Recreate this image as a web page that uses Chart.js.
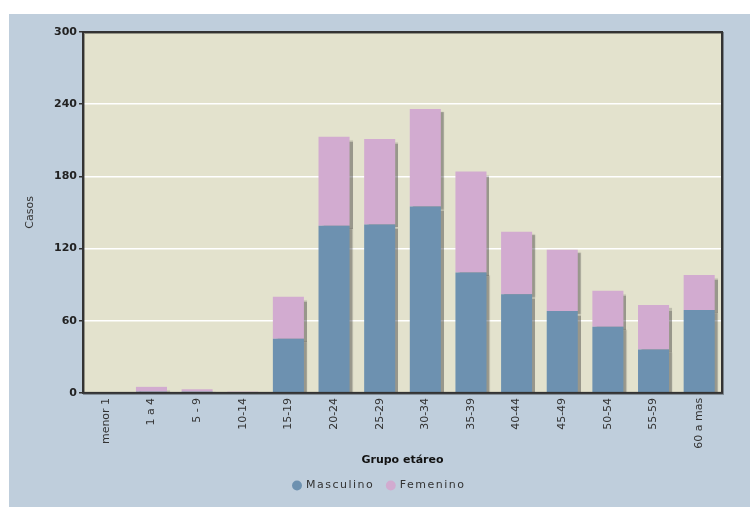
<!DOCTYPE html>
<html>
<head>
<meta charset="utf-8">
<script src="https://cdn.jsdelivr.net/npm/chart.js@4/dist/chart.umd.min.js"></script>
<style>
  html, body { margin: 0; padding: 0; background: #ffffff; }
  #wrap { position: absolute; left: 9px; top: 14px; width: 741px; height: 493px; background: #bfcedc; }
</style>
</head>
<body>
<div id="wrap"><canvas id="casos_grupo"></canvas></div>
<script>
// casos por grupo etáreo y sexo
var categorias = ["menor 1", "1 a 4", "5 - 9", "10-14", "15-19", "20-24", "25-29", "30-34", "35-39", "40-44", "45-49", "50-54", "55-59", "60 a mas"];
var masculino = [0, 1, 1, 0, 45, 139, 140, 155, 100, 82, 68, 55, 36, 69];
var femenino = [0, 4, 2, 1, 35, 74, 71, 81, 84, 52, 51, 30, 37, 29];
var ticksY = [0, 60, 120, 180, 240, 300];

var FONT = "'DejaVu Sans', Verdana, sans-serif";

// fondo del area de grafico, sombra de barras y marco
var marco = {
  id: 'marco',
  beforeDraw: function(chart) {
    var a = chart.chartArea, ctx = chart.ctx;
    ctx.save();
    ctx.fillStyle = '#e3e2cd';
    ctx.fillRect(a.left, a.top, a.right - a.left, a.bottom - a.top);
    ctx.restore();
  },
  beforeDatasetsDraw: function(chart) {
    var ctx = chart.ctx;
    ctx.save();
    ctx.shadowColor = 'rgba(60,60,60,0.45)';
    ctx.shadowOffsetX = 3;
    ctx.shadowOffsetY = 3;
    ctx.shadowBlur = 1;
  },
  afterDatasetsDraw: function(chart) {
    chart.ctx.restore();
  },
  afterDraw: function(chart) {
    var a = chart.chartArea, ctx = chart.ctx;
    ctx.save();
    ctx.strokeStyle = '#333333';
    ctx.lineWidth = 2;
    ctx.shadowColor = 'rgba(0,0,0,0.35)';
    ctx.shadowOffsetX = 1;
    ctx.shadowOffsetY = 1;
    ctx.strokeRect(a.left, a.top, a.right - a.left, a.bottom - a.top);
    ctx.restore();
  }
};

var chart = new Chart(document.getElementById("casos_grupo"), {
  type: 'bar',
  data: {
    labels: categorias,
    datasets: [
      {
        label: "Masculino",
        backgroundColor: "#6d91b0",
        data: masculino
      },
      {
        label: "Femenino",
        backgroundColor: "#d2abd0",
        data: femenino
      }
    ]
  },
  options: {
    responsive: true,
    maintainAspectRatio: false,
    animation: false,
    layout: { padding: { left: 0, right: 0, top: 18, bottom: 6 } },
    datasets: {
      bar: { barPercentage: 0.68, categoryPercentage: 1 }
    },
    plugins: {
      tooltip: { enabled: false },
      legend: {
        position: 'bottom',
        labels: {
          usePointStyle: true,
          pointStyle: 'circle',
          boxWidth: 7,
          boxHeight: 7,
          padding: 13,
          color: '#333333',
          font: { family: FONT, size: 11 }
        }
      }
    },
    scales: {
      x: {
        stacked: true,
        grid: { display: false, drawTicks: false },
        border: { display: false },
        ticks: {
          minRotation: 90,
          maxRotation: 90,
          autoSkip: false,
          padding: 5,
          color: '#333333',
          font: { family: FONT, size: 11 }
        },
        title: {
          display: true,
          text: 'Grupo etáreo',
          color: '#111111',
          font: { family: FONT, size: 11, weight: 'bold' },
          padding: { top: 0, bottom: 0 }
        }
      },
      y: {
        stacked: true,
        min: 0,
        max: 300,
        afterBuildTicks: function(scale) {
          scale.ticks = ticksY.map(function(v) { return { value: v }; });
        },
        afterFit: function(scale) { scale.width = 74; },
        grid: {
          color: function(c) {
            return (c.tick.value === 0 || c.tick.value === 300) ? 'rgba(0,0,0,0)' : '#ffffff';
          },
          lineWidth: 1.5,
          tickColor: '#333333',
          tickLength: 4
        },
        border: { display: false },
        ticks: {
          padding: 2,
          color: '#222222',
          font: { family: FONT, size: 11, weight: 'bold' }
        },
        title: {
          display: true,
          text: 'Casos',
          color: '#333333',
          font: { family: FONT, size: 11 },
          padding: { top: 15, bottom: 0 }
        }
      },
      // margen derecho vacío
      margen: {
        type: 'linear',
        position: 'right',
        afterFit: function(scale) { scale.width = 28; },
        grid: { display: false, drawTicks: false },
        border: { display: false },
        ticks: { display: false }
      }
    }
  },
  plugins: [marco]
});

// leyenda con letras espaciadas
function espaciado(fn) {
  return function() {
    var ctx = chart.ctx;
    var prev = ctx.letterSpacing;
    ctx.letterSpacing = '1.5px';
    var r = fn.apply(this, arguments);
    ctx.letterSpacing = prev;
    return r;
  };
}
chart.legend.fit = espaciado(chart.legend.fit);
chart.legend.draw = espaciado(chart.legend.draw);
chart.update();
</script>
</body>
</html>
